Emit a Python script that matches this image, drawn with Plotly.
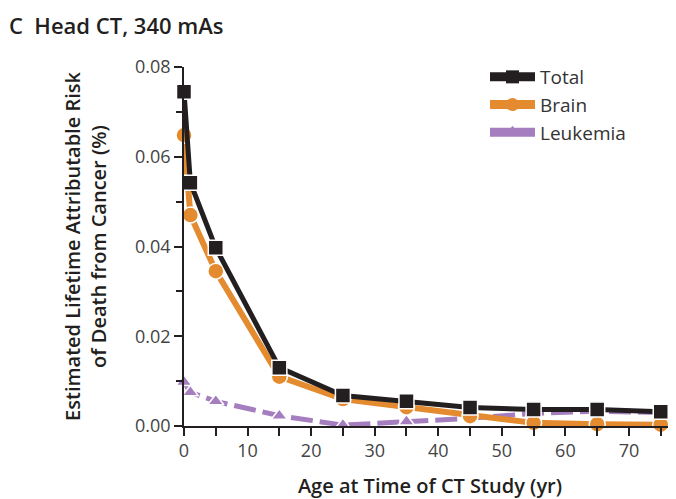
import plotly.graph_objects as go

ages = [0, 1, 5, 15, 25, 35, 45, 55, 65, 75]
total = [0.0745, 0.0542, 0.0397, 0.0130, 0.0068, 0.0055, 0.0041, 0.0037, 0.0037, 0.0032]
brain = [0.0648, 0.0470, 0.0345, 0.0110, 0.0060, 0.0042, 0.0022, 0.0007, 0.0004, 0.0003]
leukemia = [0.0098, 0.0075, 0.0055, 0.0023, 0.0002, 0.0010, 0.0017, 0.0028, 0.0033, 0.0030]

y_ticks = [0.00, 0.02, 0.04, 0.06, 0.08]
y_ticklabels = ["0.00", "0.02", "0.04", "0.06", "0.08"]
x_ticks = [0, 10, 20, 30, 40, 50, 60, 70]

BLACK = "#231f20"
ORANGE = "#e38b2e"
PURPLE = "#a57ec0"
FONT = "Open Sans"

# page body has an 8px margin, so the figure is 8px smaller than the window
W, H = 668, 491
L, T, B = 176, 59, 73
PW, PH = W - L, H - T - B

fig = go.Figure()
series = [
    ("Leukemia", leukemia, PURPLE, "triangle-up", 14, 5, "22px,7px"),
    ("Brain", brain, ORANGE, "circle", 16, 6, "solid"),
    ("Total", total, BLACK, "square", 15, 5, "solid"),
]
for name, vals, col, sym, msize, lw, dash in series:
    fig.add_trace(go.Scatter(
        x=ages, y=vals, name=name, mode="lines+markers", showlegend=False,
        line=dict(color=col, width=lw, dash=dash),
        marker=dict(symbol=sym, size=msize, color=col, line=dict(color="white", width=1.5)),
        cliponaxis=False,
    ))
# legend entries (solid thick lines with small markers)
for rank, (name, vals, col, sym, msize, lw, dash) in zip([3, 2, 1], series):
    fig.add_trace(go.Scatter(
        x=[None], y=[None], name=name, mode="lines+markers", legendrank=rank,
        line=dict(color=col, width=9),
        marker=dict(symbol=sym, size=13, color=col, line=dict(width=0)),
    ))

fig.update_layout(
    width=W, height=H,
    margin=dict(l=L, r=0, t=T, b=B),
    paper_bgcolor="white", plot_bgcolor="white",
    font=dict(family=FONT, color="#333333", size=16),
    showlegend=True,
    legend=dict(
        x=(477 - L) / PW, y=1.0 + 9 / PH, xanchor="left", yanchor="top",
        bgcolor="rgba(0,0,0,0)", font=dict(size=19, color="#333333"),
        itemwidth=45, tracegroupgap=0,
    ),
)

fig.add_annotation(
    text="C  Head CT, 340 mAs", xref="paper", yref="paper",
    x=-(L + 1) / PW, y=1 + (T - 17) / PH, xanchor="left", yanchor="middle",
    showarrow=False, font=dict(size=22, color=BLACK, family=FONT, weight=600),
)

fig.update_xaxes(
    range=[0, 77.4], tickvals=x_ticks, showgrid=False, zeroline=False,
    showline=True, linecolor=BLACK, linewidth=1.5,
    ticks="outside", ticklen=8, tickwidth=1.5, tickcolor=BLACK,
    minor=dict(dtick=10, tick0=5, ticks="outside", ticklen=8, tickwidth=1.5, tickcolor=BLACK),
    tickfont=dict(size=18, color="#444444"),
    title=dict(text="Age at Time of CT Study (yr)",
               font=dict(size=20, color=BLACK, weight=600), standoff=19),
)
fig.update_yaxes(
    range=[0, 0.08], tickvals=y_ticks, ticktext=y_ticklabels, showgrid=False, zeroline=False,
    showline=True, linecolor=BLACK, linewidth=1.5,
    ticks="outside", ticklen=8, tickwidth=1.5, tickcolor=BLACK,
    minor=dict(dtick=0.02, tick0=0.01, ticks="outside", ticklen=6, tickwidth=1.5, tickcolor=BLACK),
    tickfont=dict(size=18, color="#444444"),
    title=dict(text="Estimated Lifetime Attributable Risk<br>of Death from Cancer (%)",
               font=dict(size=20, color=BLACK, weight=600), standoff=23),
)

fig.write_html("out.html")
